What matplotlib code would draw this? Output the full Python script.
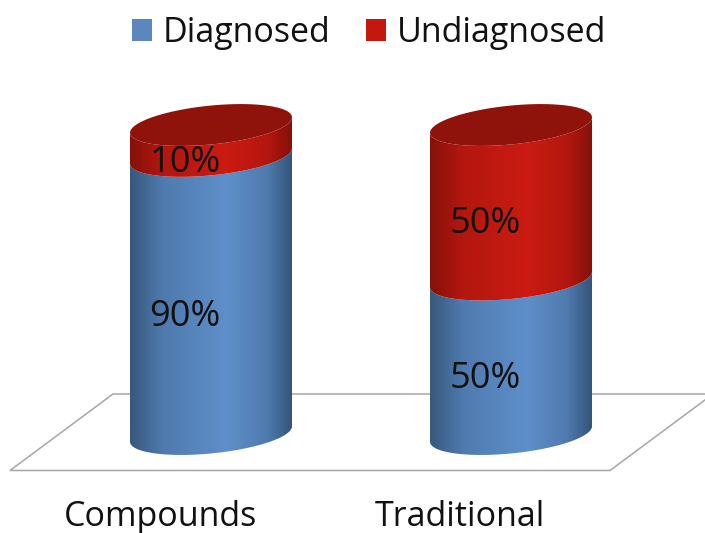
import numpy as np
import matplotlib
matplotlib.use('Agg')
import matplotlib.pyplot as plt
from matplotlib.colors import LinearSegmentedColormap
from matplotlib.patches import Patch, PathPatch, Polygon
from matplotlib.path import Path

plt.rcParams['font.family'] = ['Open Sans', 'DejaVu Sans']

categories = ['Compounds', 'Traditional']
diagnosed = [90, 50]
undiagnosed = [10, 50]
series_names = ['Diagnosed', 'Undiagnosed']

W, H = 705, 533
half_w = 0.27
ell_b = 6.3
ell_tilt = 2.5

blue_cm = LinearSegmentedColormap.from_list('blue', [(0, '#38587c'), (0.2, '#4f7aae'), (0.6, '#5f8fca'),
                                                     (0.85, '#4f7aae'), (1, '#34557a')])
red_cm = LinearSegmentedColormap.from_list('red', [(0, '#84110a'), (0.2, '#b3170f'), (0.6, '#cb1b12'),
                                                   (0.85, '#b3170f'), (1, '#84110a')])


def arc(xc, yc, t0, t1):
    t = np.linspace(t0, t1, 80)
    x = xc + half_w*np.cos(t)
    y = yc + ell_tilt*np.cos(t) + ell_b*np.sin(t)
    return x, y


def segment(ax, xc, y0, y1, cmap, z):
    # body of the cylinder between two levels, shaded left to right
    x_lo, y_lo = arc(xc, y0, np.pi, 2*np.pi)
    x_hi, y_hi = arc(xc, y1, 2*np.pi, np.pi)
    verts = np.column_stack([np.r_[x_lo, x_hi], np.r_[y_lo, y_hi]])
    grad = np.linspace(0, 1, 256).reshape(1, -1)
    im = ax.imshow(grad, cmap=cmap, aspect='auto', zorder=z, interpolation='bilinear',
                   extent=(xc-half_w, xc+half_w, y0-20, y1+20))
    im.set_clip_path(Polygon(verts, closed=True, transform=ax.transData))


fig = plt.figure(figsize=(W/100, H/100), dpi=100)
ax = fig.add_axes([0, 0, 1, 1])
ax.set_axis_off()

# floor of the 3d box, placed in figure fractions
floor = [(113, 394), (10, 470.5), (610, 470.5), (713, 394)]
floor = [(x/W, 1-y/H) for x, y in floor]
ax.add_patch(Polygon(floor, closed=True, fc='white', ec='#a6a6a6', lw=1.1, transform=ax.transAxes, zorder=1))

for i, cat in enumerate(categories):
    d = diagnosed[i]
    u = undiagnosed[i]
    segment(ax, i, 0, d, blue_cm, 2)
    segment(ax, i, d, d+u, red_cm, 3)

    x, y = arc(i, d+u, 0, 2*np.pi)
    ax.add_patch(PathPatch(Path(np.column_stack([x, y])), fc='#8f130b', ec='none', zorder=4))

    ax.text(i-0.087, d/2-7.2, '%d%%' % d, ha='center', va='center', fontsize=26, color='#111111', zorder=5)
    ax.text(i-0.087, d+u/2-7.2, '%d%%' % u, ha='center', va='center', fontsize=26, color='#111111', zorder=5)
    ax.text(i-0.17, -26.8, cat, ha='center', va='center', fontsize=24.5, color='#111111', zorder=5)

ax.set_xlim(-211/300, (W-211)/300)
ax.set_ylim((434-H)/3.09, 434/3.09)

handles = [Patch(fc='#5b87bf', ec='none', label=series_names[0]),
           Patch(fc='#c4180f', ec='none', label=series_names[1])]
ax.legend(handles=handles, loc='upper center', bbox_to_anchor=(0.523, 1.027), ncol=2, frameon=False,
          fontsize=24.5, handlelength=0.6, handleheight=0.6, handletextpad=0.3, columnspacing=1.05,
          labelcolor='#111111')

fig.savefig('out.png', dpi=100)
